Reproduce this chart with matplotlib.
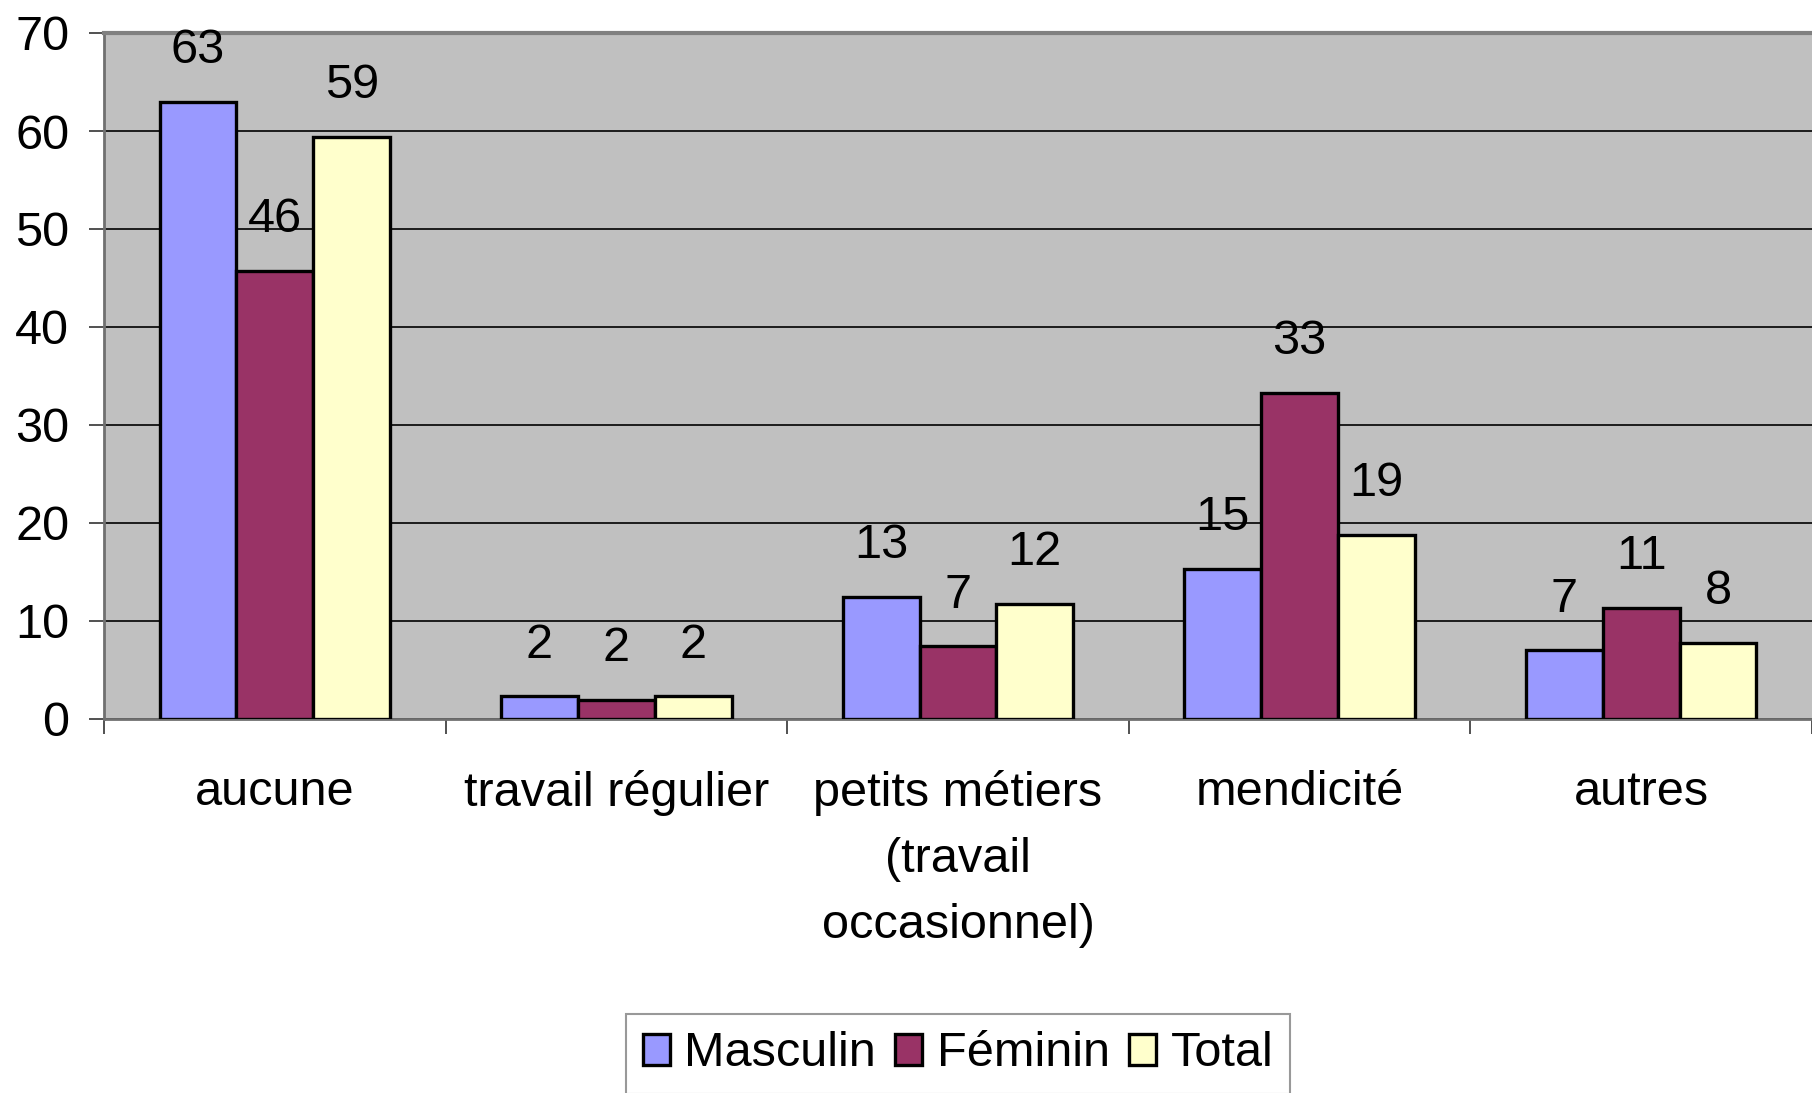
import matplotlib
matplotlib.use("Agg")
import matplotlib.pyplot as plt
import numpy as np

categories = ["aucune", "travail régulier", "petits métiers\n(travail\noccasionnel)",
              "mendicité", "autres"]
masculin = [63.0, 2.3, 12.5, 15.3, 7.0]
feminin = [45.7, 1.9, 7.4, 33.3, 11.3]
total = [59.4, 2.3, 11.7, 18.8, 7.8]
labels_m = ["63", "2", "13", "15", "7"]
labels_f = ["46", "2", "7", "33", "11"]
labels_t = ["59", "2", "12", "19", "8"]
series_names = ["Masculin", "Féminin", "Total"]
colors = ["#9999FF", "#993366", "#FFFFCC"]

plt.rcParams["font.family"] = ["Liberation Sans", "DejaVu Sans"]
fs = 35

fig = plt.figure(figsize=(18.12, 10.93), dpi=100)
ax = fig.add_axes([104 / 1812, 374 / 1093, 1 - 104 / 1812, (719 - 33) / 1093])
ax.set_facecolor("#C0C0C0")

x = np.arange(len(categories))
w = 0.225
data = [masculin, feminin, total]
labs = [labels_m, labels_f, labels_t]
for i, (vals, lab) in enumerate(zip(data, labs)):
    pos = x + (i - 1) * w
    ax.bar(pos, vals, width=w, color=colors[i], edgecolor="black",
           linewidth=2.4, label=series_names[i], zorder=3)
    for px, v, t in zip(pos, vals, lab):
        ax.annotate(t, (px, v), xytext=(0, 37), textcoords="offset points",
                    ha="center", va="center", fontsize=fs)

ax.set_xlim(-0.5, len(categories) - 0.5)
ax.set_ylim(0, 70)
ax.set_yticks(range(0, 71, 10))
ax.yaxis.grid(True, color="black", linewidth=1.2, zorder=0)
ax.set_axisbelow(True)

ax.set_xticks(x)
ax.set_xticklabels(categories, fontsize=fs, linespacing=1.6)
ax.tick_params(axis="x", which="major", length=0, pad=37)
ax.set_xticks(np.arange(len(categories) + 1) - 0.5, minor=True)
ax.tick_params(axis="x", which="minor", length=11, width=1.2, color="#333333")
ax.tick_params(axis="y", labelsize=fs, length=11, width=1.2, pad=14, color="#333333")

for side in ["left", "bottom"]:
    ax.spines[side].set_color("#707070")
    ax.spines[side].set_linewidth(2)
ax.spines["top"].set_color("#808080")
ax.spines["top"].set_linewidth(3)
ax.spines["right"].set_visible(False)

leg = fig.legend(loc="center", bbox_to_anchor=(958 / 1812, 1 - 1054 / 1093), ncol=3,
                 fontsize=fs, frameon=True, fancybox=False, edgecolor="#808080",
                 handlelength=0.55, handleheight=0.6, handletextpad=0.3,
                 columnspacing=0.4, borderpad=0.35)
leg.get_frame().set_linewidth(1.5)
for h in leg.legend_handles:
    h.set_linewidth(2.4)

fig.savefig("out.png", dpi=100)
